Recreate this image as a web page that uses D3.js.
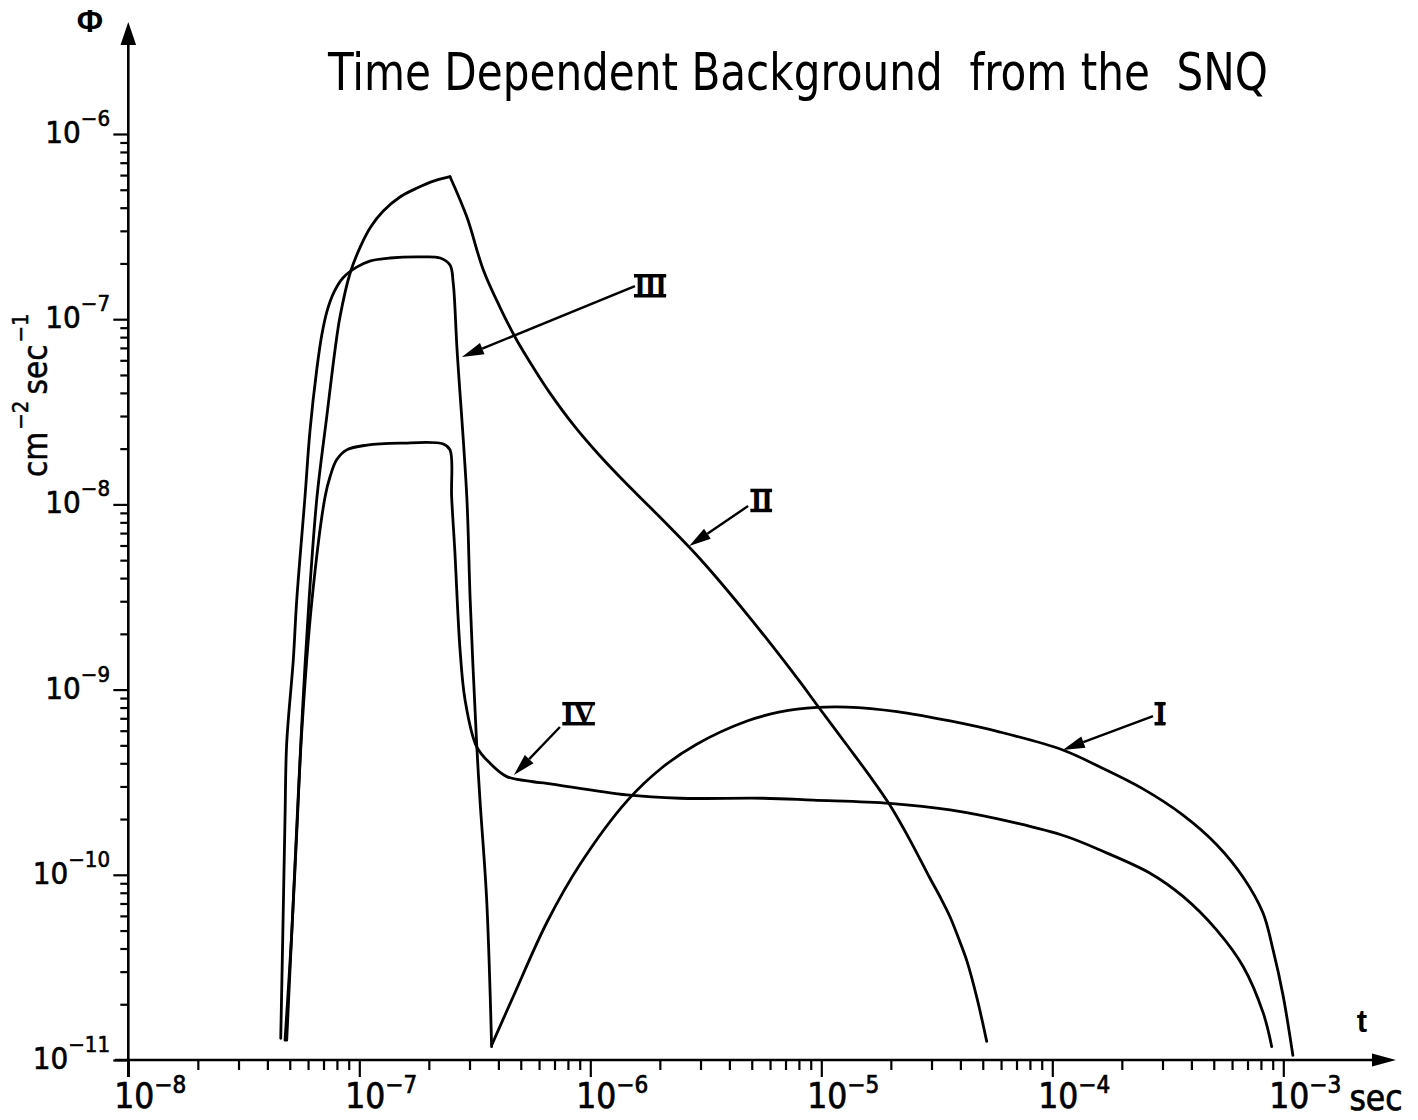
<!DOCTYPE html>
<html><head><meta charset="utf-8">
<script src="https://cdn.jsdelivr.net/npm/d3@7"></script>
<style>body{margin:0;background:#fff}svg{display:block}</style>
</head><body>
<svg id="c" width="1418" height="1120"></svg>
<script>
// ---------- data ----------
const xTickExponents = [-8, -7, -6, -5, -4, -3];
const yTickExponents = [-11, -10, -9, -8, -7, -6];

const curveI_t   = [3.75e-7, 4.63e-7, 6.50e-7, 9.03e-7, 1.44e-6, 2.06e-6, 2.90e-6, 4.77e-6, 6.63e-6, 9.58e-6, 1.29e-5, 2.13e-5, 3.61e-5, 5.94e-5, 1.11e-4, 1.61e-4, 2.47e-4, 3.68e-4, 5.16e-4, 6.69e-4, 8.17e-4, 9.03e-4, 9.97e-4, 1.10e-3];
const curveI_phi = [1.21e-11, 2.19e-11, 5.56e-11, 1.14e-10, 2.50e-10, 3.82e-10, 5.09e-10, 6.77e-10, 7.57e-10, 8.01e-10, 8.05e-10, 7.61e-10, 6.77e-10, 5.90e-10, 4.72e-10, 3.82e-10, 2.91e-10, 2.10e-10, 1.45e-10, 9.73e-11, 6.22e-11, 3.93e-11, 2.24e-11, 1.06e-11];

const curveII_t   = [4.85e-8, 5.18e-8, 5.43e-8, 5.71e-8, 6.06e-8, 6.56e-8, 7.23e-8, 7.85e-8, 8.25e-8, 9.12e-8, 1.01e-7, 1.12e-7, 1.27e-7, 1.50e-7, 1.78e-7, 2.11e-7, 2.47e-7, 2.92e-7, 3.44e-7, 4.06e-7, 4.80e-7, 5.65e-7, 6.69e-7, 8.59e-7, 1.10e-6, 1.41e-6, 1.81e-6, 2.99e-6, 4.91e-6, 8.09e-6, 9.58e-6, 1.29e-5, 1.62e-5, 1.98e-5, 2.42e-5, 2.95e-5, 3.27e-5, 3.61e-5, 3.91e-5, 4.27e-5, 4.72e-5, 5.20e-5];
const curveII_phi = [1.28e-11, 7.31e-11, 2.53e-10, 8.79e-10, 3.05e-9, 1.10e-8, 2.98e-8, 6.82e-8, 1.03e-7, 1.77e-7, 2.46e-7, 3.15e-7, 3.84e-7, 4.57e-7, 5.11e-7, 5.58e-7, 5.88e-7, 3.57e-7, 1.85e-7, 1.163e-7, 7.72e-8, 5.52e-8, 3.99e-8, 2.62e-8, 1.83e-8, 1.32e-8, 9.68e-9, 5.07e-9, 2.44e-9, 1.10e-9, 8.26e-10, 5.02e-10, 3.42e-10, 2.38e-10, 1.54e-10, 9.61e-11, 7.59e-11, 5.92e-11, 4.61e-11, 3.42e-11, 2.16e-11, 1.26e-11];
const curveII_corners = [16];

const curveIII_t   = [4.57e-8, 4.66e-8, 4.77e-8, 4.85e-8, 5.18e-8, 5.36e-8, 5.82e-8, 6.12e-8, 6.54e-8, 6.88e-8, 7.25e-8, 7.77e-8, 8.49e-8, 9.74e-8, 1.11e-7, 1.36e-7, 1.83e-7, 2.24e-7, 2.47e-7, 2.55e-7, 2.65e-7, 2.92e-7, 3.02e-7, 3.22e-7, 3.33e-7, 3.56e-7, 3.74e-7];
const curveIII_phi = [1.31e-11, 4.45e-11, 2.05e-10, 5.15e-10, 1.45e-9, 3.05e-9, 1.10e-8, 2.52e-8, 5.32e-8, 8.22e-8, 1.107e-7, 1.40e-7, 1.67e-7, 1.91e-7, 2.06e-7, 2.14e-7, 2.17e-7, 2.14e-7, 1.96e-7, 1.57e-7, 6.82e-8, 1.10e-8, 3.05e-9, 5.15e-10, 2.53e-10, 7.31e-11, 1.18e-11];

const curveIV_t   = [4.77e-8, 5.10e-8, 5.36e-8, 5.63e-8, 6.24e-8, 7.11e-8, 7.47e-8, 7.98e-8, 8.82e-8, 1.08e-7, 1.50e-7, 2.31e-7, 2.47e-7, 2.51e-7, 2.59e-7, 2.73e-7, 2.87e-7, 3.22e-7, 3.68e-7, 4.35e-7, 5.66e-7, 6.47e-7, 1.44e-6, 2.44e-6, 5.61e-6, 9.23e-6, 1.98e-5, 3.61e-5, 7.01e-5, 1.15e-4, 1.61e-4, 2.65e-4, 3.69e-4, 5.15e-4, 6.71e-4, 8.19e-4, 8.91e-4];
const curveIV_phi = [1.28e-11, 4.85e-11, 1.68e-10, 5.83e-10, 3.05e-9, 1.10e-8, 1.41e-8, 1.74e-8, 1.97e-8, 2.09e-8, 2.14e-8, 2.12e-8, 1.97e-8, 1.10e-8, 5.67e-9, 1.64e-9, 8.79e-10, 4.92e-10, 4.00e-10, 3.39e-10, 3.18e-10, 3.12e-10, 2.70e-10, 2.59e-10, 2.59e-10, 2.53e-10, 2.43e-10, 2.24e-10, 1.90e-10, 1.61e-10, 1.36e-10, 1.02e-10, 7.62e-11, 5.03e-11, 3.19e-11, 1.79e-11, 1.18e-11];

// annotation labels (data coordinates: label centre, arrow start, arrow tip)
const annLabels  = ["I", "II", "III", "IV"];
const annLabelT  = [2.92e-4, 5.48e-6, 1.81e-6, 8.85e-7];
const annLabelP  = [7.48e-10, 1.06e-8, 1.53e-7, 7.48e-10];
const annStartT  = [2.73e-4, 4.82e-6, 1.56e-6, 7.39e-7];
const annStartP  = [7.20e-10, 9.80e-9, 1.51e-7, 6.28e-10];
const annTipT    = [1.11e-4, 2.68e-6, 2.78e-7, 4.67e-7];
const annTipP    = [4.72e-10, 5.96e-9, 6.25e-8, 3.46e-10];

const titleText = "Time Dependent Background  from the  SNQ";

// ---------- drawing ----------
const svg = d3.select("#c");
const x = d3.scaleLog().domain([1e-8, 1e-3]).range([128.3, 1283.3]);
const y = d3.scaleLog().domain([1e-11, 1e-6]).range([1060, 134]);

const numFont = "'Liberation Sans Narrow','DejaVu Sans Condensed','Liberation Sans',sans-serif";

// title
svg.append("text").attr("x", 328).attr("y", 90)
  .attr("textLength", 940).attr("lengthAdjust", "spacingAndGlyphs")
  .attr("font-family", numFont).attr("font-size", 52).attr("fill", "#000")
  .style("white-space", "pre").text(titleText);

// axes lines with arrows
svg.append("line").attr("x1", 115).attr("x2", 1380).attr("y1", 1060).attr("y2", 1060)
  .attr("stroke", "#000").attr("stroke-width", 2.6);
svg.append("path").attr("d", "M1396,1060 L1372,1053.5 L1372,1066.5 Z").attr("fill", "#000");
svg.append("line").attr("x1", 128.3).attr("x2", 128.3).attr("y1", 1077).attr("y2", 40)
  .attr("stroke", "#000").attr("stroke-width", 2.6);
svg.append("path").attr("d", "M128.3,22 L120.5,45 L136.1,45 Z").attr("fill", "#000");

// ticks
const majorX = xTickExponents.map(e => Math.pow(10, e));
const minorX = [];
xTickExponents.slice(0, -1).forEach(e => { for (let k = 2; k <= 9; k++) minorX.push(k * Math.pow(10, e)); });
const majorY = yTickExponents.map(e => Math.pow(10, e));
const minorY = [];
yTickExponents.slice(0, -1).forEach(e => { for (let k = 2; k <= 9; k++) minorY.push(k * Math.pow(10, e)); });

function styleAxis(g) {
  g.select(".domain").remove();
  g.selectAll(".tick line").attr("stroke", "#000").attr("stroke-width", 2.2);
  g.selectAll(".tick text").remove();
}
svg.append("g").attr("transform", "translate(0,1060)")
  .call(d3.axisBottom(x).tickValues(minorX).tickSize(10).tickSizeOuter(0).tickFormat(""))
  .call(styleAxis);
svg.append("g").attr("transform", "translate(0,1060)")
  .call(d3.axisBottom(x).tickValues(majorX).tickSize(17).tickSizeOuter(0).tickFormat(""))
  .call(styleAxis);
svg.append("g").attr("transform", "translate(128.3,0)")
  .call(d3.axisLeft(y).tickValues(minorY).tickSize(8).tickSizeOuter(0).tickFormat(""))
  .call(styleAxis);
svg.append("g").attr("transform", "translate(128.3,0)")
  .call(d3.axisLeft(y).tickValues(majorY).tickSize(15).tickSizeOuter(0).tickFormat(""))
  .call(styleAxis);

// tick labels
xTickExponents.forEach(e => {
  const t = svg.append("text").attr("x", x(Math.pow(10, e)) - 14).attr("y", 1108)
    .attr("font-family", numFont).attr("font-size", 35).attr("fill", "#000")
    .attr("stroke", "#000").attr("stroke-width", 0.7);
  t.append("tspan").text("10");
  t.append("tspan").attr("dy", -15).attr("font-size", 24).text("\u2212" + Math.abs(e));
});
yTickExponents.forEach(e => {
  const t = svg.append("text").attr("x", 110).attr("y", y(Math.pow(10, e)) + 9)
    .attr("text-anchor", "end")
    .attr("font-family", numFont).attr("font-size", 31).attr("fill", "#000")
    .attr("stroke", "#000").attr("stroke-width", 0.6);
  t.append("tspan").text("10");
  t.append("tspan").attr("dy", -17).attr("font-size", 22).text("\u2212" + Math.abs(e));
});

// axis titles
const yl = svg.append("text").attr("transform", "translate(47,477) rotate(-90)")
  .attr("font-family", numFont).attr("font-size", 33).attr("fill", "#000")
  .attr("stroke", "#000").attr("stroke-width", 0.5);
yl.append("tspan").text("cm");
yl.append("tspan").attr("dy", -19).attr("dx", 2).attr("font-size", 22).text("\u22122");
yl.append("tspan").attr("dy", 19).attr("dx", 6).text("sec");
yl.append("tspan").attr("dy", -19).attr("dx", 2).attr("font-size", 22).text("\u22121");

svg.append("text").attr("x", 90).attr("y", 32).attr("text-anchor", "middle")
  .attr("font-family", "'Liberation Sans',sans-serif").attr("font-size", 32).attr("font-weight", "bold").text("\u03A6");
svg.append("text").attr("x", 1362).attr("y", 1032).attr("text-anchor", "middle")
  .attr("font-family", "'Liberation Sans',sans-serif").attr("font-size", 31).attr("font-weight", "bold").text("t");
svg.append("text").attr("x", 1376).attr("y", 1110).attr("text-anchor", "middle")
  .attr("font-family", numFont).attr("font-size", 35).attr("stroke", "#000").attr("stroke-width", 0.7).text("sec");

// curves
const line = d3.line().x(d => x(d[0])).y(d => y(d[1])).curve(d3.curveCatmullRom.alpha(0.5));
function drawCurve(ts, ps, corners) {
  const pts = ts.map((t, i) => [t, ps[i]]);
  const cuts = [0, ...(corners || []), pts.length - 1];
  for (let i = 0; i < cuts.length - 1; i++) {
    svg.append("path").attr("d", line(pts.slice(cuts[i], cuts[i + 1] + 1)))
      .attr("fill", "none").attr("stroke", "#000").attr("stroke-width", 2.8)
      .attr("stroke-linejoin", "round").attr("stroke-linecap", "round");
  }
}
drawCurve(curveI_t, curveI_phi);
drawCurve(curveII_t, curveII_phi, curveII_corners);
drawCurve(curveIII_t, curveIII_phi);
drawCurve(curveIV_t, curveIV_phi);

// annotations
annLabels.forEach((lab, i) => {
  const x0 = x(annStartT[i]), y0 = y(annStartP[i]);
  const x1 = x(annTipT[i]), y1 = y(annTipP[i]);
  const ang = Math.atan2(y1 - y0, x1 - x0);
  const L = 22, W = 6;
  const bx = x1 - L * Math.cos(ang), by = y1 - L * Math.sin(ang);
  svg.append("line").attr("x1", x0).attr("y1", y0).attr("x2", bx).attr("y2", by)
    .attr("stroke", "#000").attr("stroke-width", 2.4);
  svg.append("path").attr("fill", "#000").attr("d",
    `M${x1},${y1} L${bx + W * Math.sin(ang)},${by - W * Math.cos(ang)} L${bx - W * Math.sin(ang)},${by + W * Math.cos(ang)} Z`);
  const base = y(annLabelP[i]) + 11;
  const txt = svg.append("text").attr("x", x(annLabelT[i])).attr("y", base)
    .attr("text-anchor", "middle").attr("font-family", "'Liberation Serif','DejaVu Serif',serif")
    .attr("font-weight", "bold").attr("font-size", 31).attr("fill", "#000")
    .style("letter-spacing", "-1.5px").text(lab);
  const bb = txt.node().getBBox();
  const capH = 20.5;
  [base - capH - 1.5, base - 2].forEach(yy => {
    svg.append("rect").attr("x", bb.x).attr("width", bb.width - 1).attr("y", yy).attr("height", 3.5).attr("fill", "#000");
  });
});
</script>
</body></html>
